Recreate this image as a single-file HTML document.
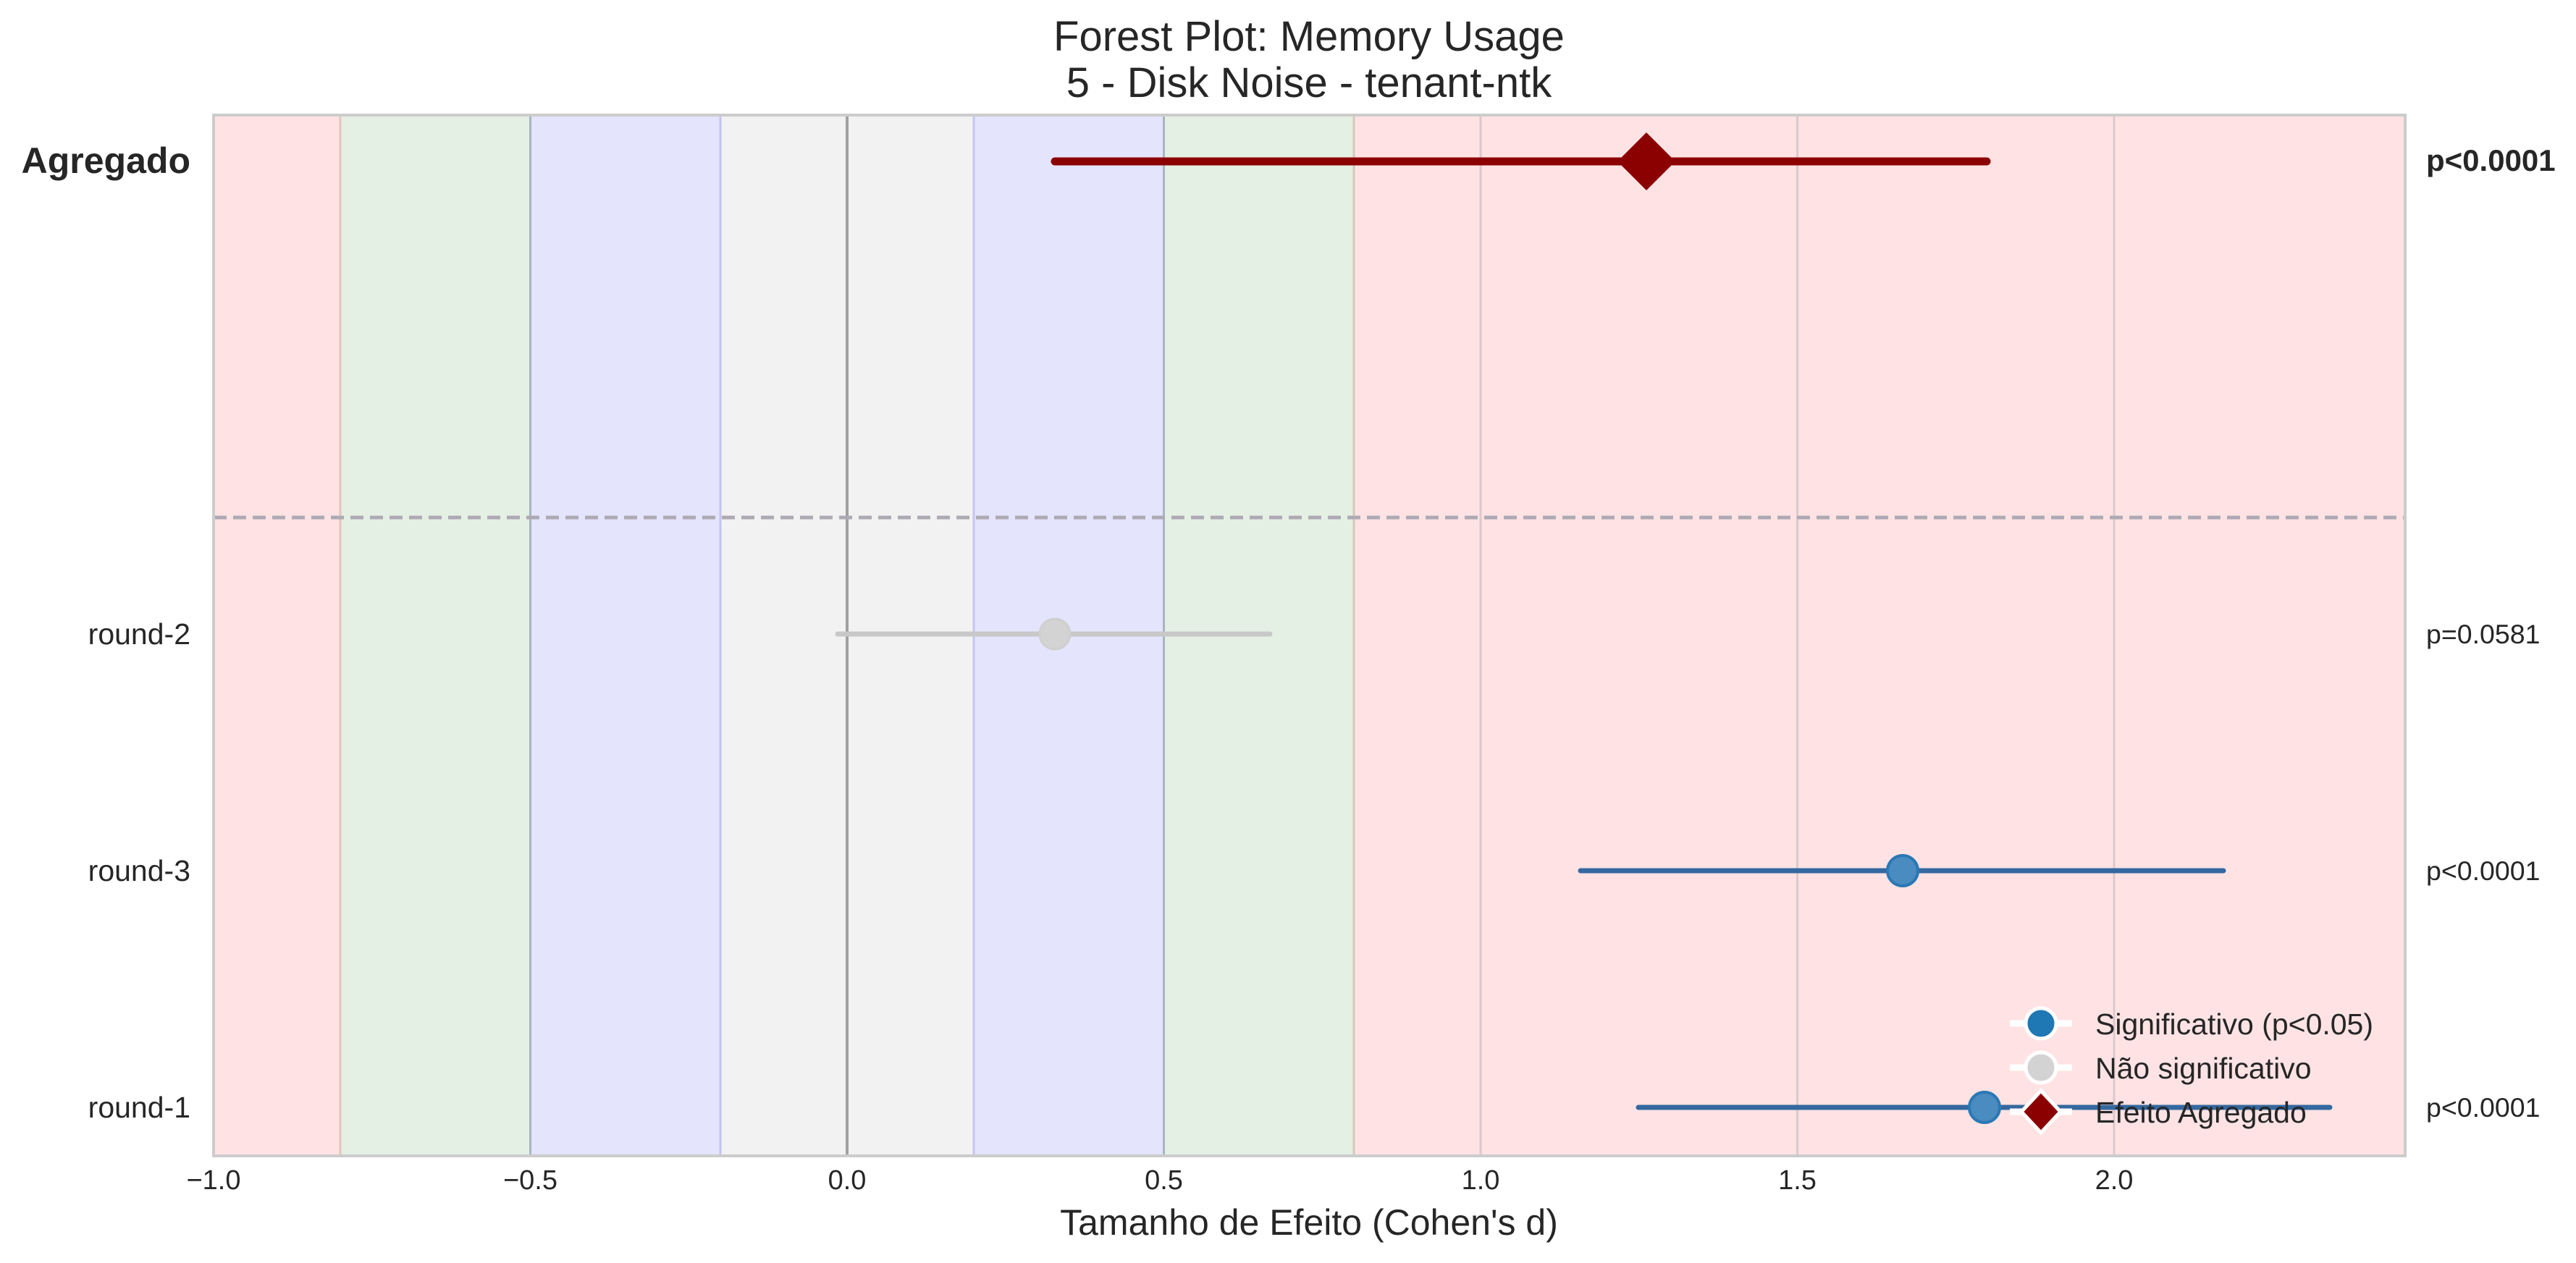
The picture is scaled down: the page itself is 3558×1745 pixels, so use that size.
<!DOCTYPE html>
<html><head><meta charset="utf-8"><style>html,body{margin:0;padding:0;background:#fff}svg{display:block}</style></head>
<body>
<svg width="3558" height="1745" viewBox="0 0 3558 1745" xmlns="http://www.w3.org/2000/svg" font-family="Liberation Sans, sans-serif">
<rect width="3558" height="1745" fill="#fff"/>
<rect x="295" y="159" width="175" height="1438" fill="#ffe3e4"/>
<rect x="470" y="159" width="262.5" height="1438" fill="#e5f0e4"/>
<rect x="732.5" y="159" width="262.5" height="1438" fill="#e4e4fd"/>
<rect x="995" y="159" width="350" height="1438" fill="#f2f2f2"/>
<rect x="1345" y="159" width="262.5" height="1438" fill="#e4e4fd"/>
<rect x="1607.5" y="159" width="262.5" height="1438" fill="#e5f0e4"/>
<rect x="1870" y="159" width="1452" height="1438" fill="#ffe3e4"/>
<g stroke-width="3">
<line x1="470" y1="159" x2="470" y2="1597" stroke="#e4c4bc"/>
<line x1="732.5" y1="159" x2="732.5" y2="1597" stroke="#a8b4c4"/>
<line x1="995" y1="159" x2="995" y2="1597" stroke="#c4c4f0"/>
<line x1="1345" y1="159" x2="1345" y2="1597" stroke="#c4c4f0"/>
<line x1="1607.5" y1="159" x2="1607.5" y2="1597" stroke="#a8b4c0"/>
<line x1="1870" y1="159" x2="1870" y2="1597" stroke="#d4c8bc"/>
<line x1="2045" y1="159" x2="2045" y2="1597" stroke="#dcc8cc"/>
<line x1="2482.5" y1="159" x2="2482.5" y2="1597" stroke="#dcc8cc"/>
<line x1="2920" y1="159" x2="2920" y2="1597" stroke="#dcc8cc"/>
<line x1="1170" y1="159" x2="1170" y2="1597" stroke="#a0a0a0" stroke-width="4"/>
</g>
<line x1="295" y1="715" x2="3322" y2="715" stroke="#aeaab4" stroke-width="5" stroke-dasharray="18,9"/>
<rect x="295" y="159" width="3027" height="1438" fill="none" stroke="#cccccc" stroke-width="4"/>
<line x1="1457" y1="223" x2="2744" y2="223" stroke="#8b0000" stroke-width="11" stroke-linecap="round"/>
<polygon points="2274,183 2314,223 2274,263 2234,223" fill="#8b0000"/>
<line x1="1157" y1="876" x2="1754" y2="876" stroke="#c8c8c8" stroke-width="7" stroke-linecap="round"/>
<circle cx="1457" cy="876" r="21" fill="#d3d3d3" stroke="#cfcfcf" stroke-width="3"/>
<line x1="2183" y1="1203" x2="3071" y2="1203" stroke="#3468a0" stroke-width="7" stroke-linecap="round"/>
<circle cx="2628" cy="1203" r="21" fill="#4a8cc0" stroke="#2a78b4" stroke-width="4"/>
<line x1="2263" y1="1530" x2="3218" y2="1530" stroke="#3468a0" stroke-width="7" stroke-linecap="round"/>
<circle cx="2741" cy="1530" r="21" fill="#4a8cc0" stroke="#2a78b4" stroke-width="4"/>
<g>
<line x1="2776" y1="1414" x2="2862" y2="1414" stroke="#fff" stroke-width="9"/>
<circle cx="2819" cy="1414" r="21" fill="#1f77b4" stroke="#fff" stroke-width="5"/>
<line x1="2776" y1="1475" x2="2862" y2="1475" stroke="#fff" stroke-width="9"/>
<circle cx="2819" cy="1475" r="21" fill="#d3d3d3" stroke="#fff" stroke-width="5"/>
<line x1="2776" y1="1536" x2="2862" y2="1536" stroke="#fff" stroke-width="9"/>
<polygon points="2819,1507 2846,1536 2819,1565 2792,1536" fill="#8b0000" stroke="#fff" stroke-width="5"/>
<g font-size="41" fill="#262626">
<text x="2894" y="1429">Significativo (p&lt;0.05)</text>
<text x="2894" y="1490">Não significativo</text>
<text x="2894" y="1551">Efeito Agregado</text>
</g>
</g>
<g fill="#262626" text-anchor="end">
<text x="263" y="239" font-size="50" font-weight="bold">Agregado</text>
<text x="263" y="890" font-size="41">round-2</text>
<text x="263" y="1217" font-size="41">round-3</text>
<text x="263" y="1544" font-size="41">round-1</text>
</g>
<g fill="#262626" font-size="37.5">
<text x="3351" y="236" font-weight="bold" font-size="42">p&lt;0.0001</text>
<text x="3351" y="889">p=0.0581</text>
<text x="3351" y="1216">p&lt;0.0001</text>
<text x="3351" y="1543">p&lt;0.0001</text>
</g>
<g fill="#262626" font-size="38" text-anchor="middle">
<text x="295" y="1643">−1.0</text>
<text x="732.5" y="1643">−0.5</text>
<text x="1170" y="1643">0.0</text>
<text x="1607.5" y="1643">0.5</text>
<text x="2045" y="1643">1.0</text>
<text x="2482.5" y="1643">1.5</text>
<text x="2920" y="1643">2.0</text>
</g>
<text x="1808" y="1706" font-size="50" fill="#262626" text-anchor="middle">Tamanho de Efeito (Cohen's d)</text>
<text x="1808" y="70" font-size="58" fill="#262626" text-anchor="middle">Forest Plot: Memory Usage</text>
<text x="1808" y="134" font-size="58" fill="#262626" text-anchor="middle">5 - Disk Noise - tenant-ntk</text>
</svg>
</body></html>
